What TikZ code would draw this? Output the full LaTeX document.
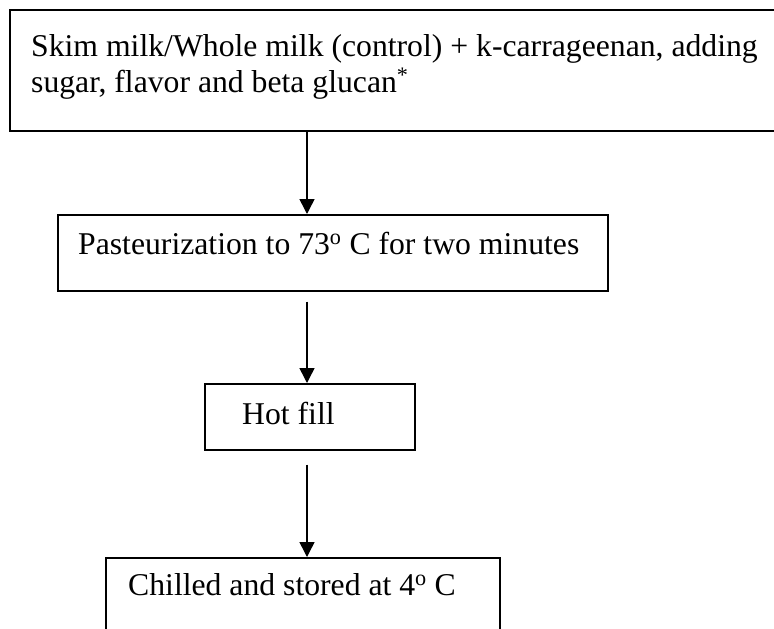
\documentclass[tikz,border=0pt]{standalone}
\usepackage{fontspec}
\setmainfont{Liberation Serif}
\usetikzlibrary{arrows.meta}
\begin{document}
\begin{tikzpicture}[x=1pt,y=-1pt,
  box/.style={draw,line width=1.5pt,inner sep=0pt,anchor=north west},
  txt/.style={anchor=base west,inner sep=0pt,font=\fontsize{31.7}{36}\selectfont},
  flow/.style={line width=1.5pt,-{Triangle[length=15pt,width=15pt]}}]
\useasboundingbox (0,0) rectangle (774,629);
\fill[white] (0,0) rectangle (774,629);
\node[box,minimum width=800pt,minimum height=121pt] (b1) at (9,9) {};
\node[box,minimum width=550pt,minimum height=76pt] (b2) at (57,214) {};
\node[box,minimum width=210pt,minimum height=66pt] (b3) at (204,383) {};
\node[box,minimum width=394pt,minimum height=120pt] (b4) at (105,557) {};
\node[txt,align=left] (t1) at (31,92) {Skim milk/Whole milk (control) + k-carrageenan, adding\\sugar, flavor and beta glucan\textsuperscript{*}};
\node[txt] (t2) at (78,254) {Pasteurization to 73\textsuperscript{o} C for two minutes};
\node[txt] (t3) at (242,424) {Hot fill};
\node[txt] (t4) at (128,595) {Chilled and stored at 4\textsuperscript{o} C};
\coordinate (ax) at (307,0);
\draw[flow] (b1.south -| ax) -- (b2.north -| ax);
\draw[flow,shorten <=10pt] (b2.south -| ax) -- (b3.north -| ax);
\draw[flow,shorten <=14pt] (b3.south -| ax) -- (b4.north -| ax);
\end{tikzpicture}
\end{document}
